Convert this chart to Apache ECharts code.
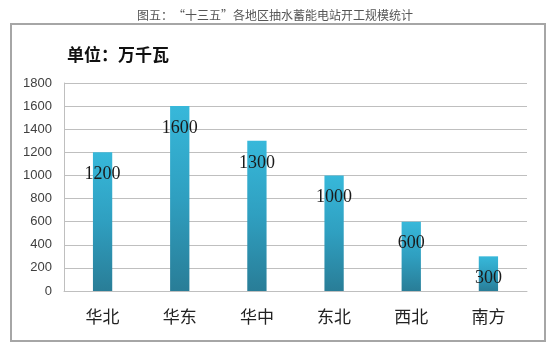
<!DOCTYPE html>
<html>
<head>
<meta charset="utf-8">
<script src="https://cdn.jsdelivr.net/npm/echarts@6/dist/echarts.min.js"></script>
<style>
  html, body { margin: 0; padding: 0; background: #fff; }
  #chart { width: 550px; height: 349px; }
</style>
</head>
<body>
<div id="chart"></div>
<script>
// Pumped-storage construction starts by region, 13th Five-Year Plan (10k kW)
const regions = ['华北', '华东', '华中', '东北', '西北', '南方'];
const capacity = [1200, 1600, 1300, 1000, 600, 300];
const yTicks = { min: 0, max: 1800, interval: 200 };

const chart = echarts.init(document.getElementById('chart'), null, { renderer: 'canvas' });

const barGradient = new echarts.graphic.LinearGradient(0, 0, 0, 1, [
  { offset: 0, color: '#37b8da' },
  { offset: 0.5, color: '#2f9fc0' },
  { offset: 1, color: '#297d97' }
]);

chart.setOption({
  animation: false,
  backgroundColor: '#ffffff',
  title: {
    text: '图五：“十三五”各地区抽水蓄能电站开工规模统计',
    left: 'center',
    top: 4,
    textStyle: {
      fontFamily: 'Noto Sans CJK SC',
      fontSize: 12,
      fontWeight: 'normal',
      color: '#555555'
    }
  },
  graphic: [
    {
      type: 'rect',
      shape: { x: 11, y: 24, width: 534, height: 317 },
      style: { fill: 'none', stroke: '#a6a6a6', lineWidth: 2 },
      z: 0
    },
    {
      type: 'text',
      left: 67,
      top: 46,
      style: {
        text: '单位：万千瓦',
        font: 'bold 17px "Noto Sans CJK SC"',
        fill: '#111111'
      }
    }
  ],
  grid: { left: 64, right: 23, top: 83, bottom: 58 },
  xAxis: {
    type: 'category',
    data: regions,
    axisLine: { lineStyle: { color: '#bfbfbf', width: 1 } },
    axisTick: { show: false },
    axisLabel: {
      margin: 17,
      fontFamily: 'Noto Sans CJK SC',
      fontSize: 17,
      color: '#222222'
    }
  },
  yAxis: {
    type: 'value',
    min: yTicks.min,
    max: yTicks.max,
    interval: yTicks.interval,
    axisLine: { show: true, lineStyle: { color: '#bfbfbf', width: 1 } },
    axisTick: { show: false },
    splitLine: { lineStyle: { color: '#bfbfbf', width: 1 } },
    axisLabel: {
      margin: 12,
      formatter: (v) => String(v),
      fontFamily: 'Liberation Sans',
      fontSize: 13,
      color: '#404040'
    }
  },
  series: [{
    type: 'bar',
    data: capacity,
    barWidth: '25%',
    itemStyle: { color: barGradient },
    label: {
      show: true,
      position: 'insideTop',
      distance: 13,
      fontFamily: 'Liberation Serif',
      fontSize: 18,
      color: '#1a1a1a'
    }
  }]
});
</script>
</body>
</html>
